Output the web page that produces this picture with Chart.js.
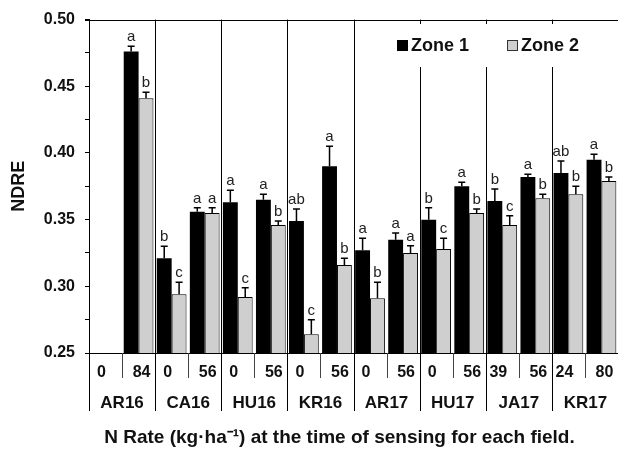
<!DOCTYPE html>
<html><head><meta charset="utf-8">
<script src="https://cdn.jsdelivr.net/npm/chart.js@4"></script>
<style>html,body{margin:0;padding:0;background:#fff}#wrap{width:618px;height:450px}</style>
</head><body><div id="wrap"><canvas id="c" width="618" height="450"></canvas></div>
<script>
const fields = ['AR16','CA16','HU16','KR16','AR17','HU17','JA17','KR17'];
const nRates = ['0','84','0','56','0','56','0','56','0','56','0','56','39','56','24','80'];
const zone1 = [null,0.476,0.321,0.356,0.363,0.365,0.349,0.390,0.327,0.335,0.350,0.375,0.364,0.382,0.385,0.395];
const zone2 = [null,0.441,0.294,0.355,0.292,0.346,0.264,0.316,0.291,0.325,0.328,0.355,0.346,0.366,0.369,0.379];
const err1 = [null,0.004,0.009,0.003,0.009,0.004,0.009,0.015,0.009,0.005,0.009,0.003,0.009,0.002,0.009,0.004];
const err2 = [null,0.0045,0.009,0.004,0.007,0.003,0.011,0.005,0.012,0.0055,0.008,0.003,0.007,0.003,0.006,0.003];
const let1 = ['','a','b','a','a','a','ab','a','a','a','b','a','b','a','ab','a'];
const let2 = ['','b','c','a','c','b','c','b','b','a','c','b','c','b','b','b'];
const yTickLabels = ['0.25','0.30','0.35','0.40','0.45','0.50'];
const xTitle = 'N Rate (kg\u00B7ha\u207B\u00B9) at the time of sensing for each field.';

const FONT = 'Arial, "Liberation Sans", sans-serif';

const extras = {
  id: 'extras',
  afterDatasetsDraw(chart) {
    const ctx = chart.ctx, ca = chart.chartArea, xs = chart.scales.x, ys = chart.scales.y;
    ctx.save();
    ctx.strokeStyle = '#000'; ctx.lineWidth = 1;
    ctx.beginPath();
    ctx.moveTo(ca.left - 4, Math.round(ca.top) + 0.5); ctx.lineTo(ca.right + 2, Math.round(ca.top) + 0.5);
    ctx.moveTo(ca.left - 4, Math.round(ca.bottom) + 0.5); ctx.lineTo(ca.right + 2, Math.round(ca.bottom) + 0.5);
    ctx.stroke();
    const n = nRates.length;
    const bounds = [];
    for (let g = 0; g <= fields.length; g++) {
      let px;
      if (g === 0) px = ca.left;
      else if (g === fields.length) px = ca.right + 1;
      else px = (xs.getPixelForValue(2 * g - 1) + xs.getPixelForValue(2 * g)) / 2;
      bounds.push(px);
      ctx.beginPath();
      ctx.moveTo(Math.round(px) + 0.5, ca.top); ctx.lineTo(Math.round(px) + 0.5, ca.bottom + 58);
      ctx.stroke();
    }
    ctx.strokeStyle = '#444';
    for (let g = 0; g < fields.length; g++) {
      const px = (xs.getPixelForValue(2 * g) + xs.getPixelForValue(2 * g + 1)) / 2;
      ctx.beginPath();
      ctx.moveTo(Math.round(px) + 0.5, ca.bottom); ctx.lineTo(Math.round(px) + 0.5, ca.bottom + 25);
      ctx.stroke();
    }
    ctx.fillStyle = '#111';
    ctx.font = 'bold 16px ' + FONT;
    ctx.textAlign = 'center'; ctx.textBaseline = 'middle';
    for (let i = 0; i < n; i++) {
      const px = xs.getPixelForValue(i) + (i % 2 === 0 ? -4 : 3);
      ctx.fillText(nRates[i], px, ca.bottom + 20);
    }
    ctx.font = 'bold 17px ' + FONT;
    for (let g = 0; g < fields.length; g++) {
      const px = (bounds[g] + bounds[g + 1]) / 2;
      ctx.fillText(fields[g], px, ca.bottom + 50);
    }
    ctx.font = 'bold 19px ' + FONT;
    ctx.fillText(xTitle, (ca.left + ca.right) / 2 - 14, ca.bottom + 85);

    ctx.fillStyle = '#fff';
    ctx.fillRect(385, 24, 210, 43);
    const ds = chart.data.datasets;
    ctx.font = 'bold 18px ' + FONT;
    ctx.textAlign = 'left';
    const items = [{x: 397}, {x: 507}];
    items.forEach((it, k) => {
      ctx.fillStyle = ds[k].backgroundColor;
      ctx.fillRect(it.x, 40, 11, 11);
      ctx.strokeStyle = k === 0 ? '#000' : '#333';
      ctx.lineWidth = 1;
      ctx.strokeRect(it.x + 0.5, 40.5, 10, 10);
      ctx.fillStyle = '#111';
      ctx.fillText(ds[k].label, it.x + 14, 46);
    });

    const errs = [err1, err2], lets = [let1, let2];
    ctx.font = '15px ' + FONT;
    ctx.textAlign = 'center'; ctx.textBaseline = 'alphabetic';
    for (let d = 0; d < 2; d++) {
      const meta = chart.getDatasetMeta(d);
      meta.data.forEach((bar, i) => {
        const v = ds[d].data[i];
        if (v === null || v === undefined) return;
        const top = ys.getPixelForValue(v);
        const et = ys.getPixelForValue(v + errs[d][i]);
        ctx.strokeStyle = '#000'; ctx.lineWidth = 1.5;
        ctx.beginPath();
        ctx.moveTo(bar.x, top); ctx.lineTo(bar.x, et);
        ctx.moveTo(bar.x - 3.5, et); ctx.lineTo(bar.x + 3.5, et);
        ctx.stroke();
        ctx.fillStyle = '#222';
        ctx.fillText(lets[d][i], bar.x, et - 5);
      });
    }
    ctx.restore();
  }
};

new Chart(document.getElementById('c'), {
  type: 'bar',
  data: {
    labels: nRates,
    datasets: [
      {label: 'Zone 1', data: zone1, backgroundColor: '#000000', borderWidth: 0},
      {label: 'Zone 2', data: zone2, backgroundColor: '#cfcfcf', borderColor: '#000000', borderWidth: 1}
    ]
  },
  options: {
    responsive: false,
    animation: false,
    devicePixelRatio: 1,
    layout: {padding: {left: 0, top: 14, right: 0, bottom: 97}},
    plugins: {legend: {display: false}, tooltip: {enabled: false}},
    datasets: {bar: {categoryPercentage: 0.9, barPercentage: 1.0}},
    scales: {
      x: {display: false, offset: true},
      y: {
        min: 0.25, max: 0.5,
        afterFit(scale) { scale.width = 89; },
        border: {display: true, color: '#000', width: 1},
        grid: {drawOnChartArea: false, drawTicks: true, tickLength: 4, color: '#000'},
        ticks: {
          stepSize: 0.025,
          padding: 10,
          color: '#111',
          font: {family: FONT, size: 16, weight: 'bold'},
          callback: (v) => {
            const k = Math.round((v - 0.25) * 40);
            return k % 2 === 0 ? yTickLabels[k / 2] : '';
          }
        },
        title: {display: true, text: 'NDRE', color: '#111', padding: {top: 8, bottom: 0},
                font: {family: FONT, size: 18, weight: 'bold'}}
      }
    }
  },
  plugins: [extras]
});
</script>
</body></html>
